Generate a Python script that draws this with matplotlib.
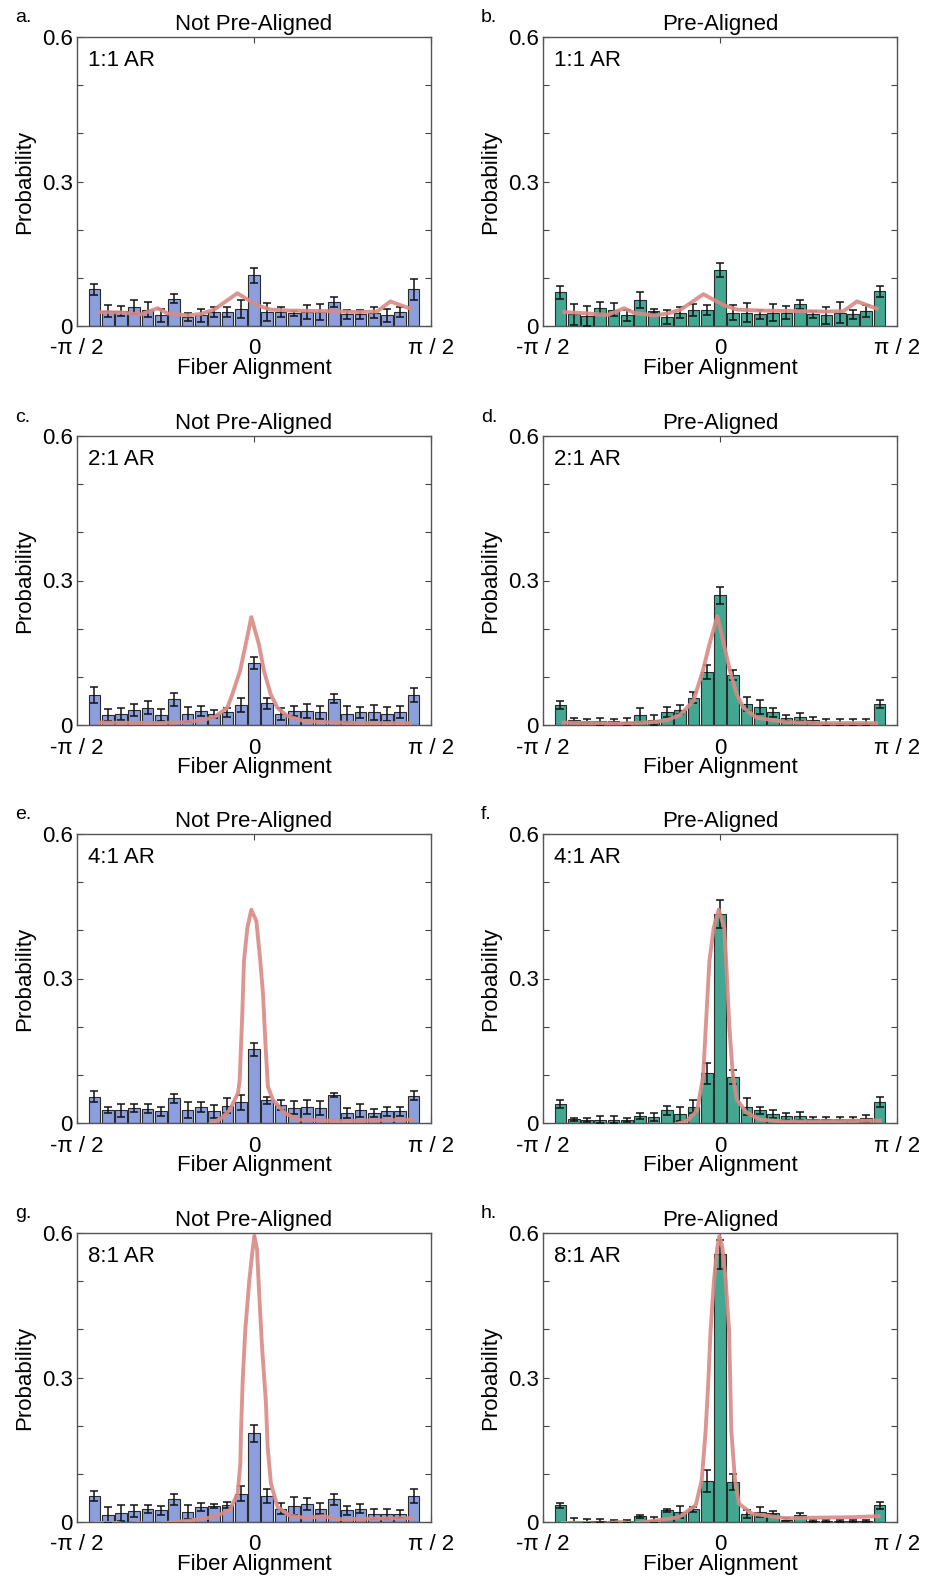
import numpy as np
import matplotlib
matplotlib.use("Agg")
import matplotlib.pyplot as plt

plt.rcParams['font.family'] = ['Liberation Sans', 'DejaVu Sans']

# bin centres of the angle histograms (rad), 25 bins
angles = np.arange(-12, 13) * 0.118

panel_letters = ['a.', 'b.', 'c.', 'd.', 'e.', 'f.', 'g.', 'h.']
panel_titles = ['Not Pre-Aligned', 'Pre-Aligned'] * 4
aspect_labels = ['1:1 AR', '1:1 AR', '2:1 AR', '2:1 AR', '4:1 AR', '4:1 AR', '8:1 AR', '8:1 AR']

# histogram probabilities and error bars
probs_a = [0.076, 0.031, 0.031, 0.040, 0.034, 0.022, 0.057, 0.019, 0.022, 0.029, 0.029, 0.036, 0.105,
           0.029, 0.029, 0.026, 0.029, 0.029, 0.050, 0.024, 0.024, 0.028, 0.022, 0.029, 0.076]
err_a = [0.012, 0.012, 0.010, 0.015, 0.015, 0.014, 0.010, 0.008, 0.014, 0.011, 0.010, 0.019, 0.015,
         0.019, 0.011, 0.006, 0.014, 0.016, 0.010, 0.010, 0.010, 0.012, 0.014, 0.010, 0.021]
probs_b = [0.070, 0.024, 0.021, 0.037, 0.034, 0.022, 0.054, 0.031, 0.019, 0.028, 0.033, 0.033, 0.116,
           0.028, 0.028, 0.024, 0.028, 0.028, 0.045, 0.024, 0.022, 0.028, 0.024, 0.031, 0.072]
err_b = [0.014, 0.021, 0.020, 0.012, 0.014, 0.012, 0.017, 0.004, 0.015, 0.012, 0.012, 0.010, 0.015,
         0.015, 0.019, 0.009, 0.017, 0.014, 0.010, 0.007, 0.018, 0.021, 0.010, 0.012, 0.012]
probs_c = [0.062, 0.021, 0.023, 0.031, 0.036, 0.021, 0.053, 0.022, 0.029, 0.023, 0.026, 0.041, 0.129,
           0.045, 0.023, 0.029, 0.029, 0.026, 0.055, 0.023, 0.026, 0.026, 0.023, 0.027, 0.062]
err_c = [0.017, 0.012, 0.012, 0.013, 0.014, 0.012, 0.013, 0.015, 0.010, 0.009, 0.010, 0.015, 0.012,
         0.012, 0.012, 0.010, 0.015, 0.014, 0.010, 0.016, 0.012, 0.016, 0.014, 0.012, 0.014]
probs_d = [0.041, 0.010, 0.008, 0.008, 0.008, 0.007, 0.021, 0.010, 0.027, 0.032, 0.057, 0.110, 0.269,
           0.104, 0.044, 0.037, 0.026, 0.015, 0.017, 0.010, 0.005, 0.005, 0.005, 0.005, 0.043]
err_d = [0.008, 0.004, 0.004, 0.007, 0.005, 0.008, 0.015, 0.010, 0.011, 0.009, 0.012, 0.014, 0.018,
         0.010, 0.015, 0.014, 0.010, 0.006, 0.008, 0.006, 0.007, 0.007, 0.007, 0.007, 0.008]
probs_e = [0.055, 0.027, 0.026, 0.031, 0.030, 0.024, 0.051, 0.027, 0.033, 0.024, 0.036, 0.043, 0.153,
           0.047, 0.038, 0.032, 0.033, 0.031, 0.058, 0.021, 0.026, 0.021, 0.024, 0.024, 0.057]
err_e = [0.012, 0.007, 0.013, 0.009, 0.010, 0.010, 0.009, 0.016, 0.010, 0.014, 0.015, 0.015, 0.014,
         0.007, 0.010, 0.014, 0.014, 0.014, 0.005, 0.010, 0.013, 0.008, 0.010, 0.009, 0.010]
probs_f = [0.039, 0.008, 0.007, 0.007, 0.007, 0.007, 0.015, 0.012, 0.026, 0.019, 0.034, 0.103, 0.434,
           0.095, 0.034, 0.026, 0.019, 0.014, 0.015, 0.009, 0.009, 0.009, 0.009, 0.010, 0.043]
err_f = [0.008, 0.003, 0.004, 0.007, 0.007, 0.004, 0.006, 0.008, 0.010, 0.014, 0.014, 0.022, 0.030,
         0.015, 0.017, 0.008, 0.008, 0.007, 0.008, 0.003, 0.003, 0.003, 0.003, 0.007, 0.010]
probs_g = [0.054, 0.015, 0.019, 0.023, 0.027, 0.024, 0.047, 0.021, 0.031, 0.033, 0.036, 0.059, 0.184,
           0.054, 0.028, 0.033, 0.037, 0.028, 0.047, 0.024, 0.028, 0.017, 0.017, 0.016, 0.054]
err_g = [0.010, 0.016, 0.016, 0.012, 0.008, 0.009, 0.011, 0.014, 0.008, 0.004, 0.006, 0.016, 0.017,
         0.015, 0.012, 0.019, 0.012, 0.012, 0.011, 0.010, 0.010, 0.010, 0.010, 0.008, 0.014]
probs_h = [0.035, 0.002, 0.002, 0.002, 0.002, 0.002, 0.012, 0.005, 0.024, 0.021, 0.026, 0.085, 0.556,
           0.083, 0.017, 0.021, 0.019, 0.005, 0.014, 0.002, 0.002, 0.002, 0.002, 0.002, 0.035]
err_h = [0.005, 0.006, 0.004, 0.005, 0.003, 0.003, 0.003, 0.006, 0.004, 0.012, 0.006, 0.022, 0.030,
         0.017, 0.008, 0.010, 0.004, 0.003, 0.004, 0.002, 0.002, 0.002, 0.002, 0.002, 0.007]

# fitted distribution (red curve)
line_x_a = [-1.372, -1.180, -1.003, -0.856, -0.767, -0.590, -0.472, -0.354, -0.148, 0.030, 0.148,
            0.325, 0.620, 0.915, 1.092, 1.210, 1.387]
line_y_a = [0.029, 0.028, 0.024, 0.037, 0.026, 0.022, 0.025, 0.034, 0.068, 0.043, 0.034,
            0.032, 0.031, 0.029, 0.030, 0.051, 0.036]
line_x_b = [-1.381, -1.174, -0.997, -0.850, -0.761, -0.584, -0.466, -0.348, -0.148, 0.035, 0.153,
            0.360, 0.655, 0.950, 1.097, 1.215, 1.392]
line_y_b = [0.029, 0.026, 0.023, 0.037, 0.027, 0.022, 0.026, 0.034, 0.066, 0.043, 0.034,
            0.032, 0.031, 0.030, 0.031, 0.051, 0.036]
line_x_c = [-1.372, -0.856, -0.590, -0.472, -0.354, -0.236, -0.192, -0.124, -0.074, -0.024,
            0.044, 0.089, 0.148, 0.207, 0.295, 0.443, 0.620, 0.915, 1.387]
line_y_c = [0.005, 0.004, 0.006, 0.010, 0.016, 0.036, 0.064, 0.112, 0.167, 0.224,
            0.167, 0.112, 0.064, 0.036, 0.019, 0.008, 0.006, 0.004, 0.004]
line_x_d = [-1.387, -0.885, -0.590, -0.472, -0.354, -0.236, -0.153, -0.094, -0.024, 0.035,
            0.089, 0.148, 0.207, 0.325, 0.472, 0.590, 0.885, 1.387]
line_y_d = [0.005, 0.003, 0.006, 0.010, 0.021, 0.050, 0.112, 0.167, 0.226, 0.167,
            0.112, 0.064, 0.036, 0.015, 0.010, 0.006, 0.004, 0.004]
line_x_e = [-0.407, -0.289, -0.215, -0.171, -0.142, -0.127, -0.103, -0.089, -0.059, -0.024,
            0.021, 0.056, 0.080, 0.103, 0.124, 0.168, 0.271, 0.389, 0.773, 1.407]
line_y_e = [-0.004, 0.010, 0.027, 0.048, 0.062, 0.089, 0.233, 0.336, 0.405, 0.443,
            0.419, 0.336, 0.268, 0.158, 0.075, 0.048, 0.021, 0.007, 0.004, 0.007]
line_x_f = [-0.410, -0.292, -0.204, -0.150, -0.115, -0.094, -0.056, -0.012, 0.038, 0.062,
            0.083, 0.115, 0.150, 0.239, 0.357, 0.593, 1.419]
line_y_f = [-0.004, 0.005, 0.025, 0.096, 0.247, 0.336, 0.405, 0.443, 0.405, 0.302,
            0.199, 0.096, 0.048, 0.021, 0.007, 0.003, 0.005]
line_x_g = [-1.404, -1.207, -1.118, -1.030, -0.926, -0.779, -0.572, -0.366, -0.218, -0.145,
            -0.121, -0.115, -0.100, -0.077, -0.041, -0.012, 0.003, 0.027, 0.047, 0.071,
            0.106, 0.121, 0.150, 0.209, 0.313, 0.460, 0.608, 0.755, 1.404]
line_y_g = [-0.002, -0.002, -0.006, -0.002, -0.006, -0.002, 0.003, 0.010, 0.024, 0.059,
            0.122, 0.191, 0.295, 0.400, 0.503, 0.566, 0.594, 0.566, 0.469, 0.365,
            0.247, 0.156, 0.080, 0.031, 0.014, 0.008, 0.012, 0.006, 0.008]
line_x_h = [-1.395, -1.189, -1.041, -0.894, -0.761, -0.599, -0.363, -0.215, -0.162, -0.127,
            -0.103, -0.083, -0.053, -0.024, -0.006, 0.021, 0.050, 0.080, 0.094, 0.100,
            0.133, 0.168, 0.286, 0.581, 1.171, 1.407]
line_y_h = [-0.002, -0.002, -0.004, 0.000, -0.003, 0.002, 0.010, 0.035, 0.087, 0.191,
            0.295, 0.400, 0.503, 0.570, 0.594, 0.570, 0.503, 0.400, 0.260, 0.191,
            0.087, 0.038, 0.017, 0.008, 0.010, 0.012]

probs = [probs_a, probs_b, probs_c, probs_d, probs_e, probs_f, probs_g, probs_h]
errs = [err_a, err_b, err_c, err_d, err_e, err_f, err_g, err_h]
lines_x = [line_x_a, line_x_b, line_x_c, line_x_d, line_x_e, line_x_f, line_x_g, line_x_h]
lines_y = [line_y_a, line_y_b, line_y_c, line_y_d, line_y_e, line_y_f, line_y_g, line_y_h]

bar_colors = ['#8c9fdc', '#43a892']
line_color = '#d98a84'

W, H = 932, 1578
fig = plt.figure(figsize=(W / 100, H / 100), dpi=100)
fig.patch.set_facecolor('white')

col_left = [77, 543]
row_top = [37, 436, 834, 1233]
ax_w, ax_h = 354, 289

for i in range(8):
    r, c = divmod(i, 2)
    ax = fig.add_axes([col_left[c] / W, 1 - (row_top[r] + ax_h) / H, ax_w / W, ax_h / H])

    ax.bar(angles, probs[i], width=0.118 * 0.88, color=bar_colors[c],
           edgecolor='#2a2a2a', linewidth=0.8, zorder=2)
    ax.errorbar(angles, probs[i], yerr=errs[i], fmt='none', ecolor='#111111',
                elinewidth=1.1, capsize=3, capthick=1.1, zorder=3)
    ax.plot(lines_x[i], lines_y[i], color=line_color, lw=2.8, alpha=0.9,
            solid_joinstyle='round', zorder=4)

    ax.set_xlim(-np.pi / 2, np.pi / 2)
    ax.set_ylim(0, 0.6)
    ax.set_xticks([-np.pi / 2, 0, np.pi / 2])
    ax.set_xticklabels(['-π / 2', '0', 'π / 2'])
    ax.set_yticks([0, 0.1, 0.2, 0.3, 0.4, 0.5, 0.6])
    ax.set_yticklabels(['0', '', '', '0.3', '', '', '0.6'])
    ax.tick_params(direction='in', length=4, width=0.8, top=True, right=True,
                   labelsize=16, pad=3, color='#444444')
    ax.tick_params(axis='x', pad=9)
    for s in ax.spines.values():
        s.set_color('#555555')
        s.set_linewidth(1.0)

    ax.set_xlabel('Fiber Alignment', fontsize=16, labelpad=-1)
    ax.set_ylabel('Probability', fontsize=16, labelpad=5)
    ax.set_title(panel_titles[i], fontsize=16, pad=5)
    ax.text(0.03, 0.955, aspect_labels[i], transform=ax.transAxes,
            fontsize=16, ha='left', va='top')

    letter_x = 15 if c == 0 else 481
    fig.text(letter_x / W, 1 - (row_top[r] - 19) / H, panel_letters[i],
             fontsize=14, ha='left', va='center')

fig.savefig('out.png', dpi=100)
